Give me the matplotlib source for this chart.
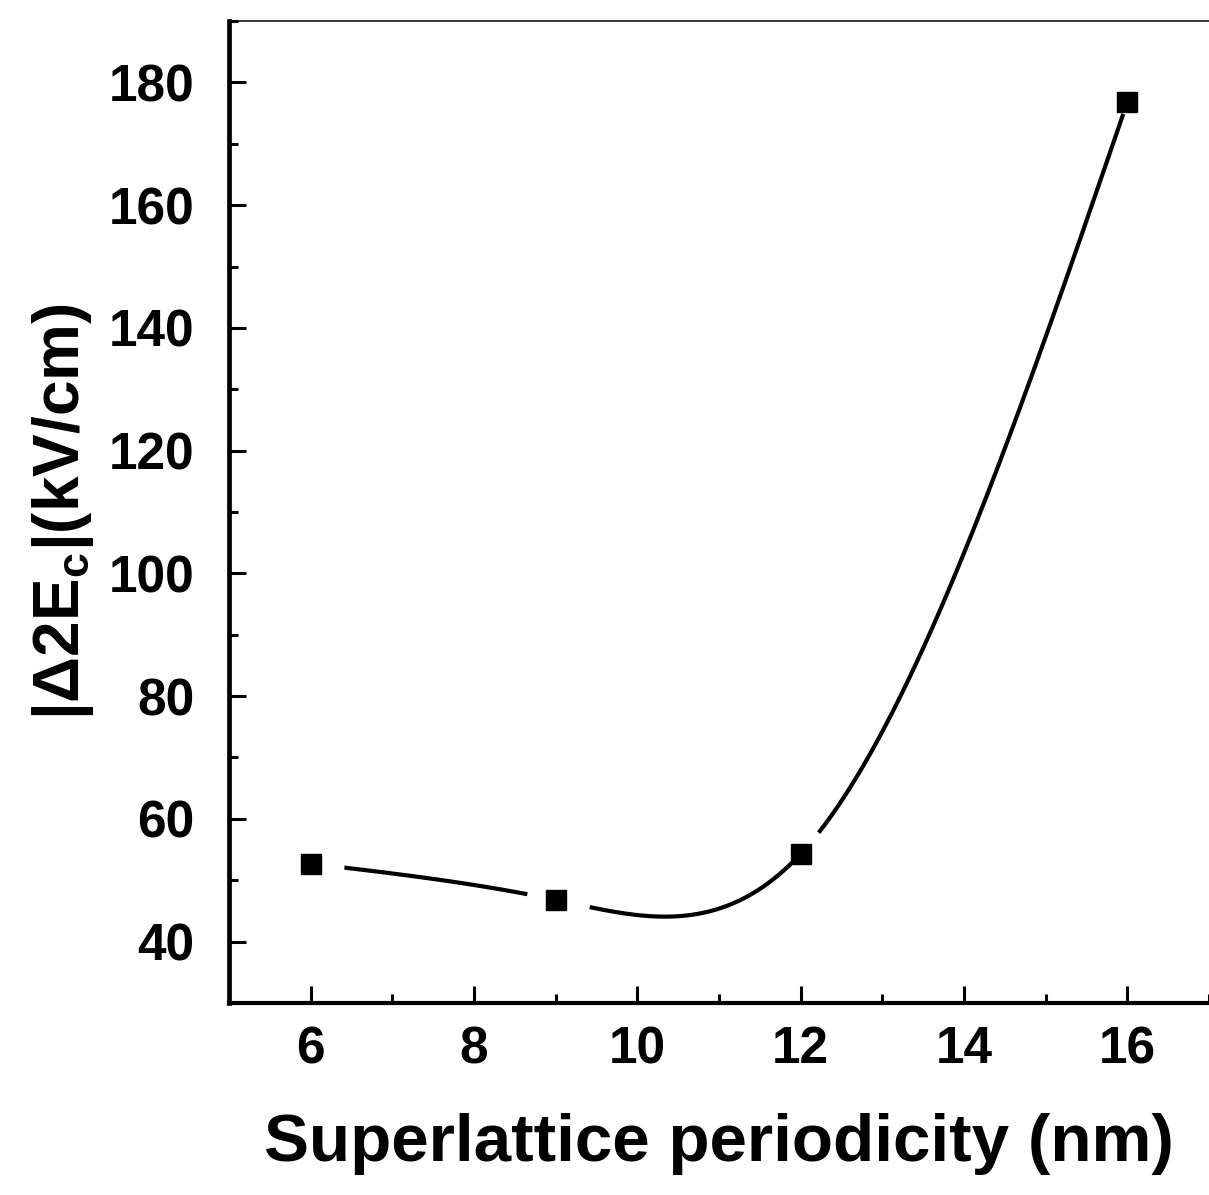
import numpy as np
import matplotlib
matplotlib.use("Agg")
import matplotlib.pyplot as plt
from matplotlib.ticker import MultipleLocator

# data
period = [6, 9, 12, 16]
delta_ec = [52.7, 46.8, 54.3, 176.8]

x_ticks = [6, 8, 10, 12, 14, 16]
y_ticks = [40, 60, 80, 100, 120, 140, 160, 180]

plt.rcParams['font.family'] = ['Liberation Sans', 'DejaVu Sans']
plt.rcParams['font.weight'] = 'bold'
plt.rcParams['mathtext.fontset'] = 'custom'
plt.rcParams['mathtext.bf'] = 'Liberation Sans:bold'
plt.rcParams['mathtext.rm'] = 'Liberation Sans:bold'
plt.rcParams['mathtext.default'] = 'bf'


def natural_spline(x, y, xs):
    # natural cubic spline through the points
    x = np.asarray(x, float)
    y = np.asarray(y, float)
    n = len(x)
    h = np.diff(x)
    A = np.zeros((n, n))
    b = np.zeros(n)
    A[0, 0] = 1
    A[-1, -1] = 1
    for i in range(1, n - 1):
        A[i, i - 1] = h[i - 1]
        A[i, i] = 2 * (h[i - 1] + h[i])
        A[i, i + 1] = h[i]
        b[i] = 6 * ((y[i + 1] - y[i]) / h[i] - (y[i] - y[i - 1]) / h[i - 1])
    M = np.linalg.solve(A, b)
    out = np.empty_like(xs)
    for k, xv in enumerate(xs):
        i = min(np.searchsorted(x, xv, side='right') - 1, n - 2)
        i = max(i, 0)
        hi = h[i]
        a = x[i + 1] - xv
        c = xv - x[i]
        out[k] = (M[i] * a**3 / (6 * hi) + M[i + 1] * c**3 / (6 * hi)
                  + (y[i] / hi - M[i] * hi / 6) * a
                  + (y[i + 1] / hi - M[i + 1] * hi / 6) * c)
    return out


fig = plt.figure(figsize=(12.09, 11.95), dpi=100)
ax = fig.add_axes([0.1894, 0.1607, 0.8106, 0.8217])
ax.set_xlim(5, 17)
ax.set_ylim(30, 190)

xs = np.linspace(period[0], period[-1], 800)
ys = natural_spline(period, delta_ec, xs)

# gaps around the markers (pixels), like the original plot
gap_left = [0, 28, 12, 12]
gap_right = [33, 34, 27, 0]
pts = ax.transData.transform(np.column_stack([xs, ys]))
mk = ax.transData.transform(np.column_stack([period, delta_ec]))
mask = np.zeros(len(xs), bool)
for i in range(len(period)):
    d = np.hypot(pts[:, 0] - mk[i, 0], pts[:, 1] - mk[i, 1])
    left = xs < period[i]
    mask |= left & (d < gap_left[i])
    mask |= (~left) & (d < gap_right[i])
ys_line = ys.copy()
ys_line[mask] = np.nan

ax.plot(xs, ys_line, color='k', lw=3.0, solid_capstyle='butt')
ax.plot(period, delta_ec, 's', color='k', ms=15, mew=1)

ax.set_xticks(x_ticks)
ax.set_yticks(y_ticks)
ax.xaxis.set_minor_locator(MultipleLocator(1))
ax.yaxis.set_minor_locator(MultipleLocator(10))
ax.tick_params(which='both', direction='in', width=2.2, top=False, right=False)
ax.tick_params(which='major', length=12)
ax.tick_params(which='minor', length=6.5)
ax.tick_params(axis='x', labelsize=37, pad=16)
ax.tick_params(axis='y', labelsize=37, pad=25)
for lab in ax.get_xticklabels() + ax.get_yticklabels():
    lab.set_fontweight('bold')

ax.spines['left'].set_linewidth(3.4)
ax.spines['bottom'].set_linewidth(3.0)
ax.spines['top'].set_linewidth(1.1)
ax.spines['right'].set_visible(False)

ax.set_xlabel('Superlattice periodicity (nm)', fontsize=48.5, fontweight='bold', labelpad=28)
ax.set_ylabel(r'|Δ2E$_c$|(kV/cm)', fontsize=46, fontweight='bold', labelpad=9)

fig.savefig('out.png', dpi=100)
